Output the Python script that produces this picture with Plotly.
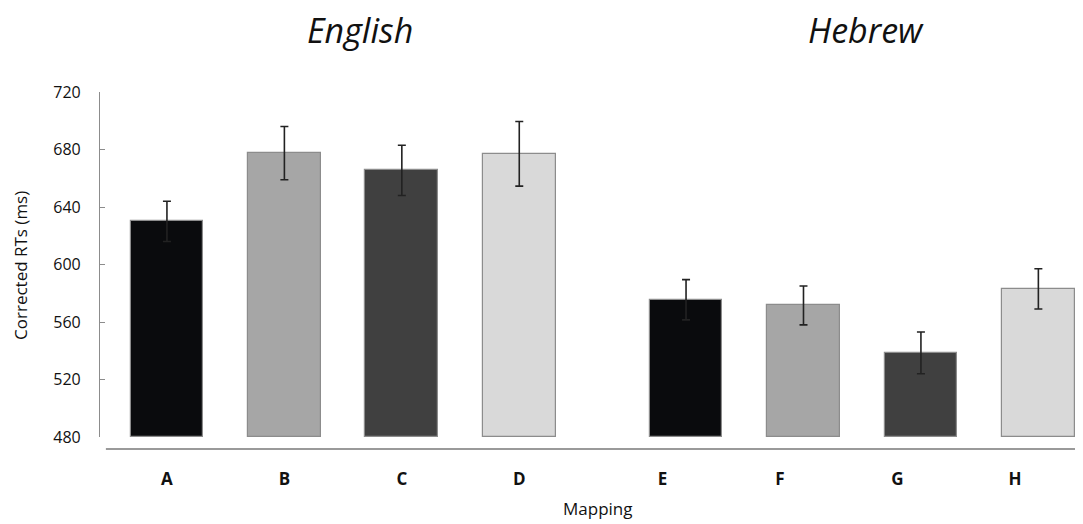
import plotly.graph_objects as go

# Data
categories = ["A", "B", "C", "D", "E", "F", "G", "H"]
groups = ["English", "English", "English", "English", "Hebrew", "Hebrew", "Hebrew", "Hebrew"]
rt_values = [630, 677.5, 665.5, 677, 575.5, 571.5, 538.5, 583]
rt_errors = [14, 18.5, 17.5, 22.5, 14, 13.5, 14.5, 14]
bar_colors = ["#0a0b0d", "#a6a6a6", "#404040", "#d9d9d9",
              "#0a0b0d", "#a6a6a6", "#404040", "#d9d9d9"]
y_ticks = [480, 520, 560, 600, 640, 680, 720]

# layout positions (group gap between English and Hebrew)
group_offset = {"English": 0.0, "Hebrew": 0.42}
label_shift = {"English": 0.0, "Hebrew": -0.2}
xpos = [i + group_offset[g] for i, g in enumerate(groups)]
tickpos = [x + label_shift[g] for x, g in zip(xpos, groups)]

fig = go.Figure()
fig.add_trace(go.Bar(
    x=xpos,
    y=[v - 480 for v in rt_values],
    base=480,
    width=0.62,
    marker=dict(color=bar_colors, line=dict(color="#8c8c8c", width=1.2)),
    error_y=dict(type="data", array=rt_errors, color="#222222", thickness=1.6, width=4),
    showlegend=False,
))

# the page body adds an 8px margin, so the figure is 8px smaller each way
fig.update_layout(
    width=1075, height=516,
    margin=dict(l=92, r=0, t=84, b=87),
    plot_bgcolor="white", paper_bgcolor="white",
    font=dict(family="Open Sans", color="#1a1a1a"),
    bargap=0,
    xaxis=dict(
        range=[-0.57, 7.8], automargin=False,
        tickmode="array", tickvals=tickpos, ticktext=categories,
        tickfont=dict(size=17, family="Open Sans", weight="bold", color="#111111"),
        ticks="", showline=False, showgrid=False, zeroline=False,
        ticklabelstandoff=30,
    ),
    yaxis=dict(
        range=[480, 720], automargin=False, tickmode="array",
        tickvals=y_ticks,
        tickfont=dict(size=16, color="#111111"),
        ticks="inside", ticklen=5, tickcolor="#8c8c8c", tickwidth=1.2,
        showline=True, linecolor="#8c8c8c", linewidth=1.2,
        showgrid=False, zeroline=False,
        ticklabelstandoff=15,
    ),
    shapes=[dict(type="line", xref="paper", yref="paper", x0=0.006, x1=1.0,
                 y0=-0.035, y1=-0.035, line=dict(color="#9a9a9a", width=2))],
    annotations=[
        dict(text="<i>English</i>", xref="paper", yref="paper", x=0.265, y=1.18,
             xanchor="center", yanchor="middle", showarrow=False, borderpad=0,
             font=dict(size=34, family="Open Sans", color="#111111")),
        dict(text="<i>Hebrew</i>", xref="paper", yref="paper", x=0.779, y=1.18,
             xanchor="center", yanchor="middle", showarrow=False, borderpad=0,
             font=dict(size=34, family="Open Sans", color="#111111")),
        dict(text="Mapping", xref="paper", yref="paper", x=0.5066, y=-0.206,
             xanchor="center", yanchor="middle", showarrow=False,
             font=dict(size=17, family="Open Sans", color="#111111")),
        dict(text="Corrected RTs (ms)", xref="paper", yref="paper", x=-0.0804, y=0.4986,
             xanchor="center", yanchor="middle", showarrow=False, textangle=-90,
             font=dict(size=17, family="Open Sans", color="#111111")),
    ],
)

fig.write_html("out.html")
